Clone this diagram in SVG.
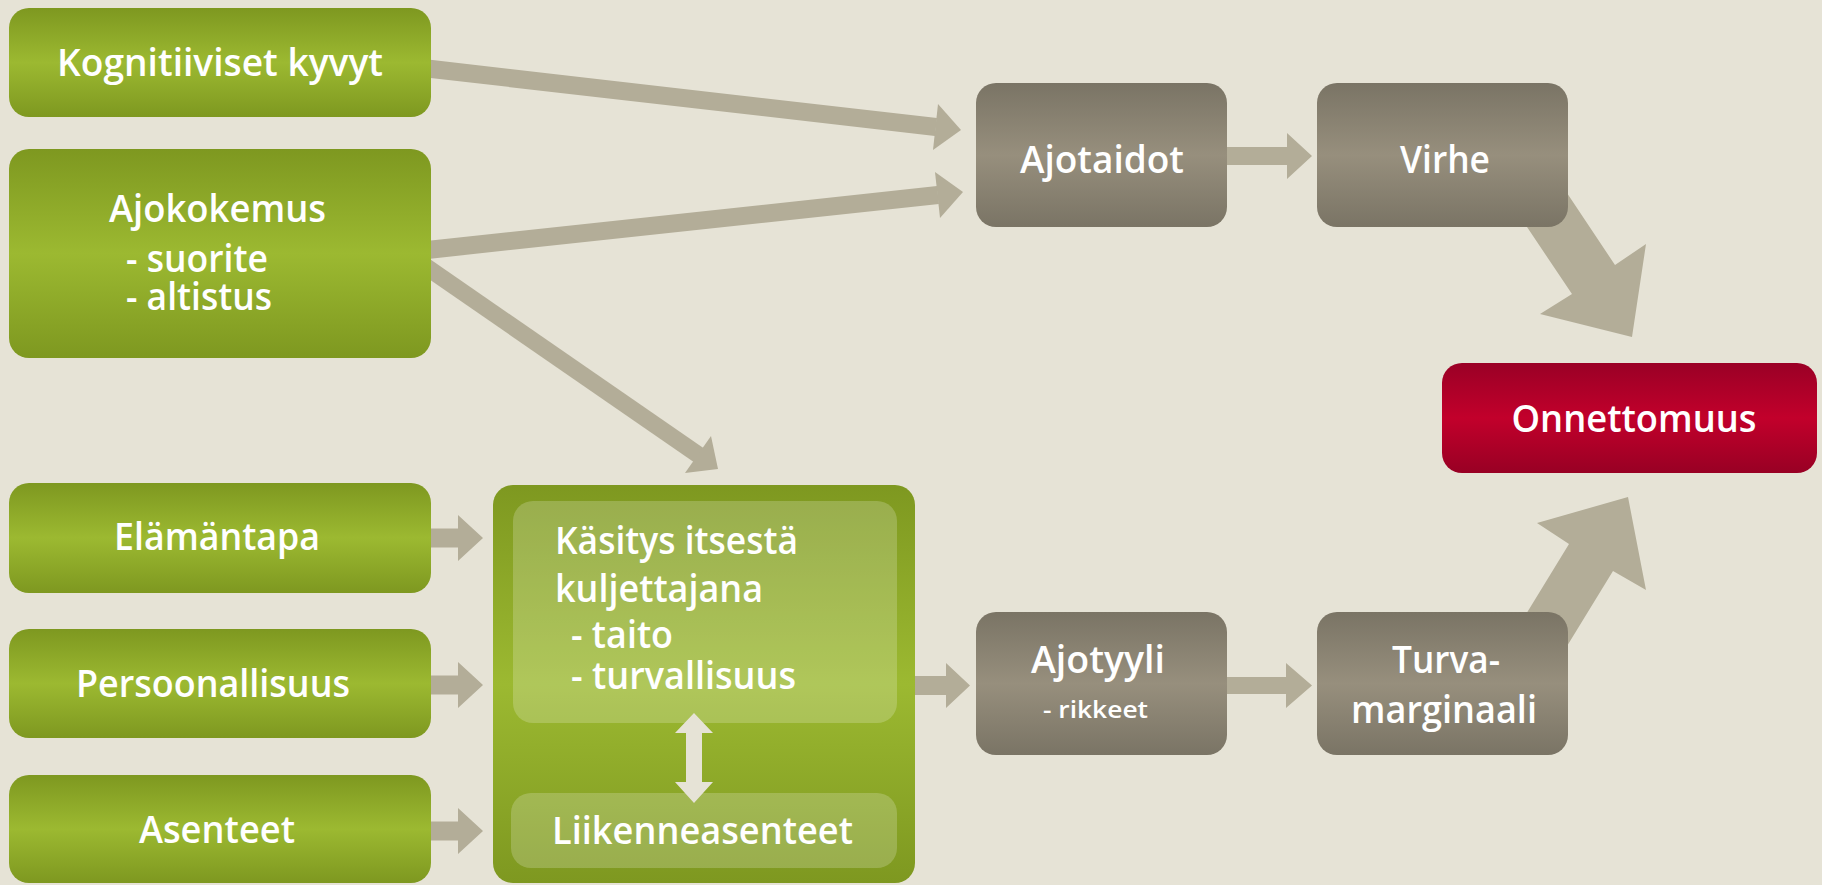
<svg xmlns="http://www.w3.org/2000/svg" width="1822" height="885" viewBox="0 0 1822 885">
<defs>
<linearGradient id="gGreen" x1="0" y1="0" x2="0" y2="1">
<stop offset="0" stop-color="#7e9820"/><stop offset="0.5" stop-color="#9cb931"/><stop offset="1" stop-color="#7e9820"/>
</linearGradient>
<linearGradient id="gGray" x1="0" y1="0" x2="0" y2="1">
<stop offset="0" stop-color="#7a7465"/><stop offset="0.5" stop-color="#978f7d"/><stop offset="1" stop-color="#7a7465"/>
</linearGradient>
<linearGradient id="gRed" x1="0" y1="0" x2="0" y2="1">
<stop offset="0" stop-color="#9a0026"/><stop offset="0.5" stop-color="#c2002b"/><stop offset="1" stop-color="#980024"/>
</linearGradient>
<style>
.bg{fill:#e6e3d6}
.green{fill:url(#gGreen)}
.gray{fill:url(#gGray)}
.red{fill:url(#gRed)}
.panel{fill:#ffffff;fill-opacity:0.2}
.arr{fill:#b3ad98}
.shaft{stroke:#b3ad98;fill:none;stroke-linecap:butt}
.dbl{fill:#e6e3d6}
text{font-family:"Open Sans","Noto Sans","Liberation Sans",sans-serif;font-weight:600;fill:#ffffff;font-size:37px}
.mid{text-anchor:middle}
.small{font-size:23px}
</style>
</defs>
<rect class="bg" x="0" y="0" width="1822" height="885"/>

<g id="connectors">
<line class="shaft" stroke-width="18" x1="425" y1="68.3" x2="936" y2="127"/>
<polygon class="arr" points="938,104 961,130 933,150"/>
<line class="shaft" stroke-width="18" x1="425" y1="250.2" x2="938" y2="195"/>
<polygon class="arr" points="935,172 963,192 940,218"/>
<line class="shaft" stroke-width="17" x1="425" y1="266" x2="700" y2="456"/>
<polygon class="arr" points="711,436 718,469 685,473"/>
<polygon class="arr" points="425,528.5 458,528.5 458,515 483,538 458,561 458,547.5 425,547.5"/>
<polygon class="arr" points="425,675.5 458,675.5 458,662 483,685 458,708 458,694.5 425,694.5"/>
<polygon class="arr" points="425,821.5 458,821.5 458,808 483,831 458,854 458,840.5 425,840.5"/>
<polygon class="arr" points="910,676 946,676 946,663 970,685.5 946,708 946,695 910,695"/>
<polygon class="arr" points="1220,147 1287,147 1287,133 1312,156 1287,179 1287,165 1220,165"/>
<polygon class="arr" points="1220,677 1286,677 1286,663 1312,685.5 1286,708 1286,694 1220,694"/>
<polygon class="arr" points="1494,178 1572,294 1540,314 1632,337 1646,244 1615,265 1543,157"/>
<polygon class="arr" points="1501,655 1569,544 1537,523 1628,497 1646,590 1613,571 1545,682"/>
</g>

<g id="node-kognitiiviset">
<rect class="green" x="9" y="8" width="422" height="109" rx="20"/>
<text class="mid" x="220" y="76" textLength="326" lengthAdjust="spacingAndGlyphs">Kognitiiviset kyvyt</text>
</g>
<g id="node-ajokokemus">
<rect class="green" x="9" y="149" width="422" height="209" rx="20"/>
<text x="109" y="222" textLength="217" lengthAdjust="spacingAndGlyphs">Ajokokemus</text>
<text x="126" y="272" textLength="142" lengthAdjust="spacingAndGlyphs">- suorite</text>
<text x="126" y="310" textLength="146" lengthAdjust="spacingAndGlyphs">- altistus</text>
</g>
<g id="node-elamantapa">
<rect class="green" x="9" y="483" width="422" height="110" rx="20"/>
<text class="mid" x="217" y="550" textLength="206" lengthAdjust="spacingAndGlyphs">Elämäntapa</text>
</g>
<g id="node-persoonallisuus">
<rect class="green" x="9" y="629" width="422" height="109" rx="20"/>
<text class="mid" x="213" y="697" textLength="274" lengthAdjust="spacingAndGlyphs">Persoonallisuus</text>
</g>
<g id="node-asenteet">
<rect class="green" x="9" y="775" width="422" height="108" rx="20"/>
<text class="mid" x="217" y="843" textLength="156" lengthAdjust="spacingAndGlyphs">Asenteet</text>
</g>
<g id="node-kasitys">
<rect class="green" x="493" y="485" width="422" height="398" rx="20"/>
<rect class="panel" x="513" y="501" width="384" height="222" rx="20"/>
<rect class="panel" x="511" y="793" width="386" height="75" rx="20"/>
<text x="555" y="554" textLength="243" lengthAdjust="spacingAndGlyphs">Käsitys itsestä</text>
<text x="555" y="602" textLength="208" lengthAdjust="spacingAndGlyphs">kuljettajana</text>
<text x="571" y="648" textLength="102" lengthAdjust="spacingAndGlyphs">- taito</text>
<text x="571" y="689" textLength="225" lengthAdjust="spacingAndGlyphs">- turvallisuus</text>
<polygon class="dbl" points="694,713 713,733 702,733 702,782 713,782 694,803 675,782 686,782 686,733 675,733"/>
<text x="552" y="844" textLength="301" lengthAdjust="spacingAndGlyphs">Liikenneasenteet</text>
</g>
<g id="node-ajotaidot">
<rect class="gray" x="976" y="83" width="251" height="144" rx="20"/>
<text class="mid" x="1102" y="173" textLength="164" lengthAdjust="spacingAndGlyphs">Ajotaidot</text>
</g>
<g id="node-virhe">
<rect class="gray" x="1317" y="83" width="251" height="144" rx="20"/>
<text class="mid" x="1445" y="173" textLength="90" lengthAdjust="spacingAndGlyphs">Virhe</text>
</g>
<g id="node-ajotyyli">
<rect class="gray" x="976" y="612" width="251" height="143" rx="20"/>
<text x="1031" y="673" textLength="134" lengthAdjust="spacingAndGlyphs">Ajotyyli</text>
<text class="small" x="1043" y="718" textLength="105" lengthAdjust="spacingAndGlyphs">- rikkeet</text>
</g>
<g id="node-turvamarginaali">
<rect class="gray" x="1317" y="612" width="251" height="143" rx="20"/>
<text x="1392" y="673" textLength="108" lengthAdjust="spacingAndGlyphs">Turva-</text>
<text x="1351" y="723" textLength="186" lengthAdjust="spacingAndGlyphs">marginaali</text>
</g>
<g id="node-onnettomuus">
<rect class="red" x="1442" y="363" width="375" height="110" rx="20"/>
<text class="mid" x="1634" y="432" textLength="245" lengthAdjust="spacingAndGlyphs">Onnettomuus</text>
</g>
</svg>
